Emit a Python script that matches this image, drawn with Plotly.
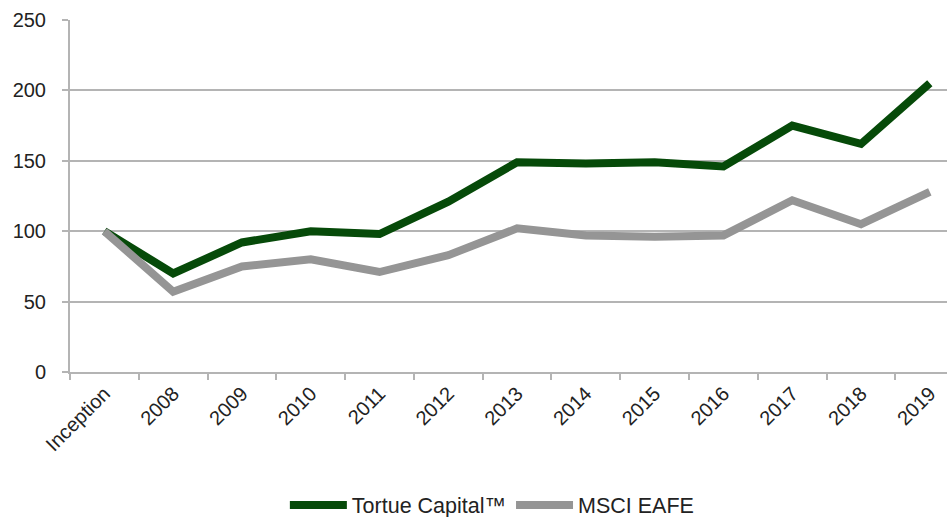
import plotly.graph_objects as go

categories = ["Inception", "2008", "2009", "2010", "2011", "2012", "2013",
              "2014", "2015", "2016", "2017", "2018", "2019"]
tortue = [100, 70, 92, 100, 98, 121, 149, 148, 149, 146, 175, 162, 205]
msci = [100, 57, 75, 80, 71, 83, 102, 97, 96, 97, 122, 105, 128]
y_ticks = [0, 50, 100, 150, 200, 250]

GREEN = "#064a09"
GRAY = "#959595"
GRID = "#b4b4b4"

fig = go.Figure()
fig.add_trace(go.Scatter(x=categories, y=tortue, mode="lines", name="Tortue Capital™",
                         line=dict(color=GREEN, width=8)))
fig.add_trace(go.Scatter(x=categories, y=msci, mode="lines", name="MSCI EAFE",
                         line=dict(color=GRAY, width=8)))

fig.update_layout(
    width=947, height=517,
    margin=dict(l=70, r=0, t=20, b=145, autoexpand=False),
    paper_bgcolor="white", plot_bgcolor="white",
    font=dict(family="Liberation Sans, Arial, sans-serif", size=18, color="#222222"),
    showlegend=True,
    legend=dict(orientation="h", x=0.245, xanchor="left", y=-0.378, yanchor="middle",
                font=dict(family="Liberation Sans, Arial, sans-serif",
                          size=21.5, color="#222222"),
                itemwidth=57, tracegroupgap=0),
    xaxis=dict(type="category", categoryorder="array", categoryarray=categories,
               range=[-0.5, 12.25], tickangle=-45, tickson="boundaries",
               ticks="outside", ticklen=6, tickcolor=GRID, tickwidth=2,
               showline=True, linecolor=GRID, linewidth=2, showgrid=False,
               tickfont=dict(size=20), zeroline=False, automargin=False),
    yaxis=dict(range=[0, 250], tickvals=y_ticks, ticks="outside", ticklen=6,
               tickcolor=GRID, tickwidth=2, showline=True, linecolor=GRID, linewidth=2,
               showgrid=True, gridcolor=GRID, gridwidth=2, zeroline=False,
               tickfont=dict(size=20), automargin=False, ticklabelstandoff=12),
)

fig.write_html("out.html", config={"displayModeBar": False},
               post_script="document.body.style.margin='0';document.body.style.padding='0';")
